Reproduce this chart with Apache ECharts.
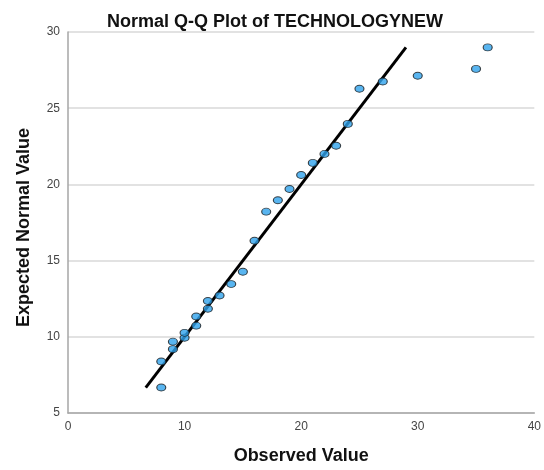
<!DOCTYPE html>
<html>
<head>
<meta charset="utf-8">
<script src="https://cdn.jsdelivr.net/npm/echarts@6/dist/echarts.min.js"></script>
<style>
  html, body { margin: 0; padding: 0; background: #fff; }
  #chart { width: 544px; height: 470px; }
</style>
</head>
<body>
<div id="chart"></div>
<script>
const observed = [8, 8, 9, 9, 10, 10, 11, 11, 12, 12, 13, 14, 15, 16, 17, 18, 19, 20, 21, 22, 23, 24, 25, 27, 30, 35, 36]
const expected = [6.67, 8.38, 9.19, 9.68, 9.94, 10.26, 10.73, 11.33, 11.84, 12.35, 12.71, 13.46, 14.27, 16.3, 18.21, 18.96, 19.7, 20.62, 21.41, 22.0, 22.54, 23.97, 26.28, 26.75, 27.13, 27.58, 28.99]
// reference line y = x, spanning the expected range
const refLine = [6.67, 28.99]
const xTicks = [0, 10, 20, 30, 40]
const yTicks = [5, 10, 15, 20, 25, 30]

const font = 'Liberation Sans, Arial, sans-serif'
const chart = echarts.init(document.getElementById('chart'))

chart.setOption({
  animation: false,
  title: {
    text: 'Normal Q-Q Plot of TECHNOLOGYNEW',
    left: 270,
    textAlign: 'center',
    top: 8,
    textStyle: { fontFamily: font, fontSize: 18, fontWeight: 'bold', color: '#111' },
  },
  grid: { left: 68, right: 6, top: 32, bottom: 48 },
  xAxis: {
    type: 'value',
    min: xTicks[0],
    max: xTicks[xTicks.length - 1],
    interval: 10,
    name: 'Observed Value',
    nameLocation: 'middle',
    nameGap: 34,
    nameTextStyle: { fontFamily: font, fontSize: 18, fontWeight: 'bold', color: '#111' },
    axisLine: { lineStyle: { color: '#a6a6a6', width: 1.5 } },
    axisTick: { show: false },
    splitLine: { show: false },
    axisLabel: { fontFamily: font, fontSize: 12, color: '#444', margin: 8 },
  },
  yAxis: {
    type: 'value',
    min: yTicks[0],
    max: yTicks[yTicks.length - 1],
    interval: 5,
    name: 'Expected Normal Value',
    nameLocation: 'middle',
    nameGap: 35,
    nameTextStyle: { fontFamily: font, fontSize: 18, fontWeight: 'bold', color: '#111', padding: [0, 10, 0, 0] },
    axisLine: { show: true, lineStyle: { color: '#a6a6a6', width: 1.5 } },
    axisTick: { show: false },
    splitLine: { lineStyle: { color: '#d9d9d9', width: 1.5 } },
    axisLabel: { fontFamily: font, fontSize: 12, color: '#444', margin: 8 },
  },
  series: [
    {
      type: 'line',
      data: refLine.map(v => [v, v]),
      symbol: 'none',
      lineStyle: { color: '#000', width: 3 },
      z: 2,
    },
    {
      type: 'scatter',
      data: observed.map((v, i) => [v, expected[i]]),
      symbol: 'circle',
      symbolSize: [9, 7],
      itemStyle: { color: '#2fa2ec', borderColor: '#1b1b1b', borderWidth: 1 },
      z: 3,
    },
  ],
})
</script>
</body>
</html>
